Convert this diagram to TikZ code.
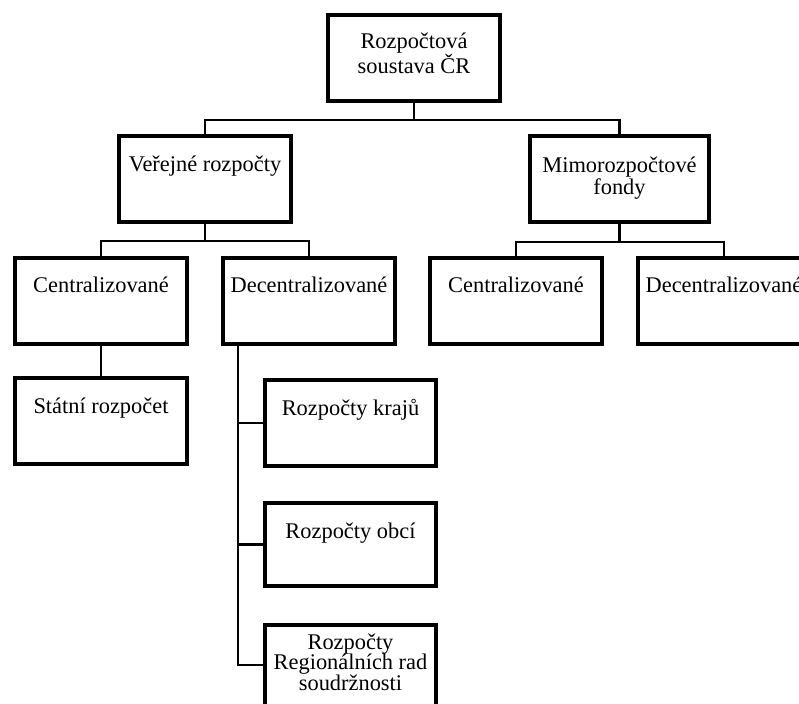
\documentclass[tikz,border=0pt]{standalone}
\usepackage{fontspec}
\setmainfont{Liberation Serif}
\usetikzlibrary{calc}
\begin{document}
\begin{tikzpicture}[x=1pt,y=-1pt,
  box/.style={draw, line width=4pt, minimum width=172pt, minimum height=86pt,
              inner sep=0pt, anchor=north west},
  txt/.style={font=\fontsize{22.4}{22}\selectfont, align=center, inner sep=0pt, anchor=base},
  conn/.style={draw, line width=2.5pt}]
\useasboundingbox (0,0) rectangle (799,703);
\clip (0,0) rectangle (799,703);

% boxes
\node[box] (top)    at (326,13)  {};
\node[box] (ver)    at (117,134) {};
\node[box, minimum width=179pt] (mimo) at (528,134) {};
\node[box] (cen1)   at (13,256)  {};
\node[box] (dec1)   at (221,256) {};
\node[box] (cen2)   at (428,256) {};
\node[box] (dec2)   at (636,256) {};
\node[box] (stat)   at (13,376)  {};
\node[box, minimum width=171pt] (kraje) at (263,378) {};
\node[box, minimum width=171pt, minimum height=83pt] (obce) at (263,501) {};
\node[box, minimum width=171pt] (rrs)   at (263,623) {};

% labels (multi-line labels are placed by the baseline of their last line)
\node[txt] (top-t)   at ($(top.north)+(0,61)$)   {Rozpočtová\\soustava ČR};
\node[txt] (ver-t)   at ($(ver.north)+(0,38)$)   {Veřejné rozpočty};
\node[txt] (mimo-t)  at ($(mimo.north)+(0,61)$)  {Mimorozpočtové\\fondy};
\node[txt] (cen1-t)  at ($(cen1.north)+(0,36)$)  {Centralizované};
\node[txt] (dec1-t)  at ($(dec1.north)+(0,36)$)  {Decentralizované};
\node[txt] (cen2-t)  at ($(cen2.north)+(0,36)$)  {Centralizované};
\node[txt] (dec2-t)  at ($(dec2.north)+(0,36)$)  {Decentralizované};
\node[txt] (stat-t)  at ($(stat.north)+(0,37)$)  {Státní rozpočet};
\node[txt] (kraje-t) at ($(kraje.north)+(0,37)$) {Rozpočty krajů};
\node[txt] (obce-t)  at ($(obce.north)+(0,37)$)  {Rozpočty obcí};
\node[txt, font=\fontsize{22.4}{20.5}\selectfont] (rrs-t) at ($(rrs.north)+(0,67)$)
  {Rozpočty\\Regionálních rad\\soudržnosti};

% connectors
\draw[conn] (top.south) -- ++(0,17) coordinate (j0);
\draw[conn] (ver.north) |- (j0) -| (mimo.north);
\draw[conn] (ver.south) -- ++(0,17) coordinate (j1);
\draw[conn] (cen1.north) |- (j1) -| (dec1.north);
\draw[conn] (mimo.south) -- ++(0,18) coordinate (j2);
\draw[conn] (cen2.north) |- (j2) -| (dec2.north);
\draw[conn] (cen1.south) -- (stat.north);
\coordinate (tap) at ([xshift=17pt]dec1.south west);
\draw[conn] (tap) |- ([yshift=3pt]rrs.west);
\draw[conn] (kraje.west) -- (kraje.west -| tap);
\draw[conn] (obce.west) -- (obce.west -| tap);
\end{tikzpicture}
\end{document}
